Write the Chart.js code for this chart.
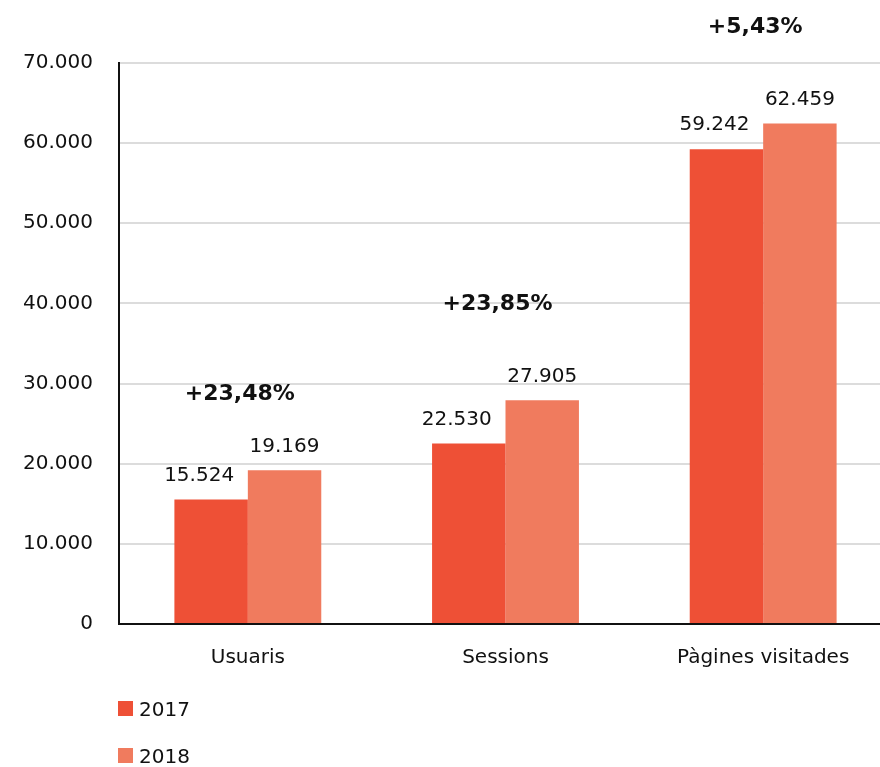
<!DOCTYPE html>
<html>
<head>
<meta charset="utf-8">
<script src="https://cdn.jsdelivr.net/npm/chart.js@4"></script>
<style>
  html, body { margin: 0; padding: 0; background: #fff; overflow: hidden; }
  .wrap { width: 880px; height: 767px; overflow: hidden; position: relative; }
  .chart { width: 892px; height: 692px; position: relative; }
  .legend { position: absolute; left: 118px; top: 685px; font-family: 'DejaVu Sans', sans-serif; font-size: 20px; color: #111; }
  .legend-item { display: flex; align-items: center; height: 47px; }
  .legend-box { width: 15px; height: 15px; margin-right: 6px; }
</style>
</head>
<body>
<div class="wrap">
  <div class="chart"><canvas id="c"></canvas></div>
  <div class="legend" id="legend"></div>
</div>
<script>
const categories = ['Usuaris', 'Sessions', 'Pàgines visitades'];
const series2017 = [15524, 22530, 59242];
const series2018 = [19169, 27905, 62459];
const growthLabels = ['+23,48%', '+23,85%', '+5,43%'];
const seriesNames = ['2017', '2018'];
const seriesColors = ['#ee5036', '#f07b5e'];

const fmt = v => String(v).replace(/\B(?=(\d{3})+(?!\d))/g, '.');
const FONT = "'DejaVu Sans', sans-serif";

const labelsPlugin = {
    id: 'barLabels',
    afterDatasetsDraw(chart) {
        const ctx = chart.ctx;
        ctx.save();
        ctx.fillStyle = '#111';
        ctx.textAlign = 'center';
        ctx.textBaseline = 'bottom';
        ctx.font = '20px ' + FONT;
        chart.data.datasets.forEach((ds, di) => {
            chart.getDatasetMeta(di).data.forEach((bar, i) => {
                const dx = di === 0 ? -12 : 0;
                ctx.fillText(fmt(ds.data[i]), bar.x + dx, bar.y - 14);
            });
        });
        // growth labels above the 2018 value
        ctx.font = 'bold 22px ' + FONT;
        ctx.textBaseline = 'middle';
        const meta = chart.getDatasetMeta(1);
        const xs = chart.scales.x;
        growthLabels.forEach((t, i) => {
            const top = meta.data[i].y;
            const gap = i === 0 ? 76 : 96;
            ctx.fillText(t, xs.getPixelForValue(i) - 8, top - gap);
        });
        ctx.restore();
    }
};

new Chart(document.getElementById('c'), {
    type: 'bar',
    data: {
        labels: categories,
        datasets: [
            { label: seriesNames[0], data: series2017, backgroundColor: seriesColors[0] },
            { label: seriesNames[1], data: series2018, backgroundColor: seriesColors[1] },
        ],
    },
    options: {
        responsive: true,
        maintainAspectRatio: false,
        animation: false,
        categoryPercentage: 0.57,
        barPercentage: 1,
        layout: { padding: { top: 63, left: 0, right: 0, bottom: 0 } },
        plugins: { legend: { display: false }, tooltip: { enabled: false } },
        scales: {
            x: {
                grid: { display: false, drawTicks: false },
                border: { display: true, color: '#111', width: 2 },
                ticks: { color: '#111', font: { family: FONT, size: 20 }, padding: 22 },
            },
            y: {
                min: 0, max: 70000,
                afterFit(scale) { scale.width = 119; },
                grid: { color: '#dcdcdc', lineWidth: 2, drawTicks: false },
                border: { display: true, color: '#111', width: 2 },
                ticks: { stepSize: 10000, color: '#111', font: { family: FONT, size: 20 }, padding: 26, callback: v => fmt(v) },
            },
        },
    },
    plugins: [labelsPlugin],
});

const legend = document.getElementById('legend');
seriesNames.forEach((name, i) => {
    const item = document.createElement('div');
    item.className = 'legend-item';
    item.innerHTML = '<div class="legend-box" style="background:' + seriesColors[i] + '"></div><span>' + name + '</span>';
    legend.appendChild(item);
});
</script>
</body>
</html>
